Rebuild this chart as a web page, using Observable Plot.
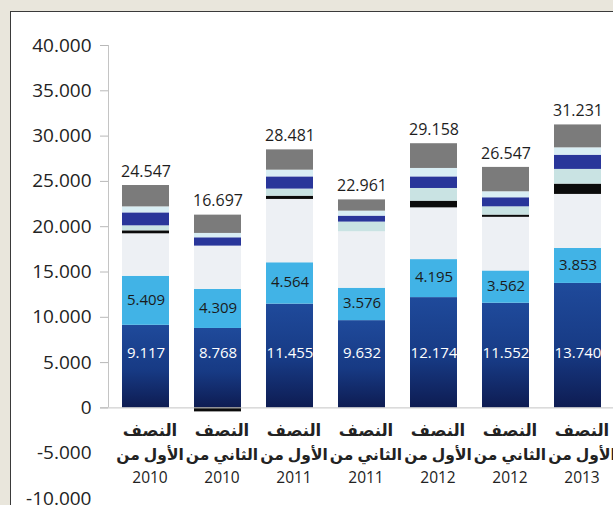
<!DOCTYPE html>
<html>
<head>
<meta charset="utf-8">
<script src="https://cdn.jsdelivr.net/npm/d3@7"></script>
<script src="https://cdn.jsdelivr.net/npm/@observablehq/plot@0.6"></script>
<style>
  html, body { margin: 0; padding: 0; }
  body { width: 613px; height: 505px; overflow: hidden; position: relative; background: #e9e6dc; }
  #panel { position: absolute; left: 10px; top: 11px; width: 700px; height: 600px; background: #fff; border: 1px solid #3a3a3a; }
  #chart { position: absolute; left: 0; top: 0; }
</style>
</head>
<body>
<svg width="0" height="0" style="position:absolute">
  <defs>
    <linearGradient id="navyGrad" x1="0" y1="0" x2="0" y2="1">
      <stop offset="0" stop-color="#1f4a9b"/>
      <stop offset="0.55" stop-color="#173a84"/>
      <stop offset="1" stop-color="#0e1c52"/>
    </linearGradient>
  </defs>
</svg>
<div id="panel"></div>
<div id="chart"></div>
<script>
// Categories
const halves = ["الأول", "الثاني", "الأول", "الثاني", "الأول", "الثاني", "الأول"];
const years = ["2010", "2010", "2011", "2011", "2012", "2012", "2013"];
// Series values (thousands), bottom to top
const navy      = [9.117, 8.768, 11.455, 9.632, 12.174, 11.552, 13.740];
const lightBlue = [5.409, 4.309, 4.564, 3.576, 4.195, 3.562, 3.853];
const lightGray = [4.69, 4.78, 6.99, 6.23, 5.71, 5.92, 5.97];
const black     = [0.33, -0.44, 0.36, 0, 0.74, 0.25, 1.14];
const cyanLow   = [0.55, 0, 0.78, 1.07, 1.40, 0.91, 1.62];
const royal     = [1.43, 0.92, 1.35, 0.66, 1.28, 1.00, 1.57];
const cyanHigh  = [0.66, 0.48, 0.74, 0.55, 0.93, 0.66, 0.81];
const gray      = [2.36, 2.02, 2.24, 1.24, 2.73, 2.69, 2.53];
// Total labels
const totals = ["24.547", "16.697", "28.481", "22.961", "29.158", "26.547", "31.231"];
// Y tick values
const yTicks = [-10, -5, 0, 5, 10, 15, 20, 25, 30, 35, 40];

const seriesNames = ["navy", "lightBlue", "lightGray", "black", "cyanLow", "royal", "cyanHigh", "gray"];
const seriesValues = [navy, lightBlue, lightGray, black, cyanLow, royal, cyanHigh, gray];
const seriesColors = ["url(#navyGrad)", "#41b3e6", "#edf0f4", "#0b0b0b", "#c9e3e3", "#29369a", "#d9eef4", "#7b7b7b"];

const cats = halves.map((h, i) => `${h} ${years[i]}`);

const rows = [];
cats.forEach((c, i) => {
  seriesNames.forEach((s, j) => rows.push({cat: c, series: s, value: seriesValues[j][i]}));
});

const tops = cats.map((c, i) => ({
  cat: c,
  top: seriesValues.reduce((a, arr) => a + Math.max(0, arr[i]), 0),
  total: totals[i]
}));
const navyLabels = cats.map((c, i) => ({cat: c, y: 6.0, text: navy[i].toFixed(3)}));
const blueLabels = cats.map((c, i) => ({cat: c, y: navy[i] + lightBlue[i] / 2, text: lightBlue[i].toFixed(3)}));

const FONT = "'Open Sans', 'DejaVu Sans', sans-serif";

const chart = Plot.plot({
  width: 613,
  height: 520,
  marginTop: 45,
  marginBottom: 22,
  marginLeft: 106,
  marginRight: 0,
  style: {background: "transparent", fontFamily: FONT, color: "#222"},
  x: {type: "band", domain: cats, range: [106, 617.2], paddingInner: 0.353, paddingOuter: 0.19, axis: null},
  y: {domain: [-10, 40], axis: null},
  color: {domain: seriesNames, range: seriesColors},
  marks: [
    Plot.barY(rows, {x: "cat", y: "value", fill: "series", z: "series"}),
    // baseline and axis line
    Plot.ruleY([0], {stroke: "#c4c4c4", insetLeft: -6}),
    Plot.ruleX([cats[0]], {x: d => d, y1: 0, y2: 40, dx: -37.5, stroke: "#c4c4c4"}),
    // y ticks
    Plot.tickY(yTicks.filter(d => d >= 0), {y: d => d, stroke: "#b8b8b8", frameAnchor: "left", insetLeft: -6, insetRight: 505}),
    Plot.axisY(yTicks, {anchor: "left", tickSize: 0, tickPadding: 15, fontSize: 19, fill: "#232323",
      tickFormat: d => d === 0 ? "0" : d.toFixed(3)}),
    // value labels
    Plot.text(navyLabels, {x: "cat", y: "y", text: "text", fill: "white", fontSize: 15}),
    Plot.text(blueLabels, {x: "cat", y: "y", text: "text", fill: "#1b1b1b", fontSize: 15, dy: -1}),
    Plot.text(tops, {x: "cat", y: "top", text: "total", fill: "#1e1e1e", fontSize: 16, dy: -14}),
    // x category labels (three lines)
    Plot.axisX(cats, {anchor: "bottom", tickSize: 0, tickPadding: 0, lineAnchor: "middle", dy: -68, dx: 4,
      fontSize: 16.5, fontWeight: "bold", fill: "#222", tickFormat: () => "النصف"}),
    Plot.axisX(cats, {anchor: "bottom", tickSize: 0, tickPadding: 0, lineAnchor: "middle", dy: -43, dx: 4,
      fontSize: 15.5, fontWeight: "bold", fill: "#222", tickFormat: (d) => halves[cats.indexOf(d)] + " من"}),
    Plot.axisX(cats, {anchor: "bottom", tickSize: 0, tickPadding: 0, lineAnchor: "middle", dy: -20, dx: 4,
      fontSize: 15.5, fill: "#222", tickFormat: (d) => years[cats.indexOf(d)]})
  ]
});
document.getElementById("chart").appendChild(chart);
</script>
</body>
</html>
